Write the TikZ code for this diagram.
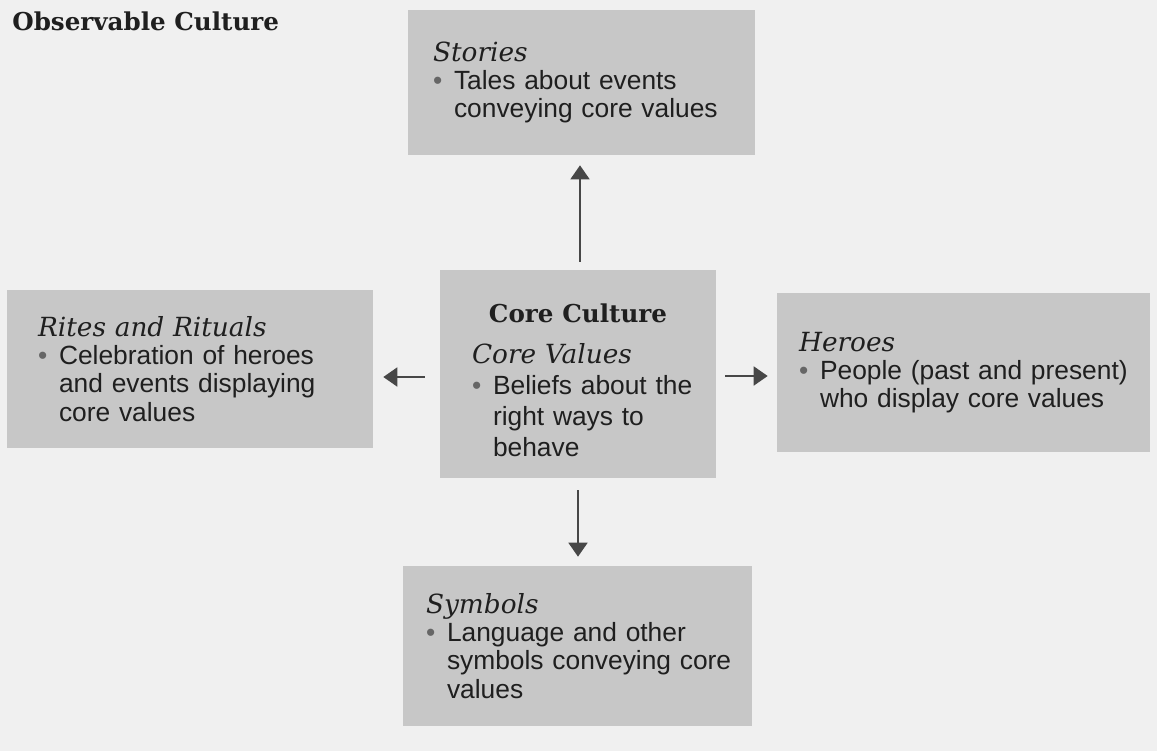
\documentclass[tikz,border=0pt]{standalone}
\usepackage{fontspec}
\setmainfont{Liberation Sans}
\newfontfamily\headserif{DejaVu Serif}
\usepackage{tikz}
\usetikzlibrary{arrows.meta, positioning, calc}

\newcommand{\headfont}{\headserif\itshape\fontsize{15}{16}\selectfont}
\newcommand{\titlefont}{\headserif\bfseries\fontsize{14}{16}\selectfont}
\newcommand{\bulletpt}{\makebox[0.42cm][l]{\textcolor{black!60}{\textbullet}}}
\newcommand{\bulletgap}{\hspace*{0.42cm}}

\begin{document}
\begin{tikzpicture}[x=0.02cm, y=-0.02cm,
    culturebox/.style={rectangle, fill=black!22, align=left, text=black!88,
        font=\fontsize{15}{16}\selectfont, inner ysep=0pt},
    arr/.style={-{Triangle[length=2.8mm, width=3.8mm]}, line width=1.1pt, draw=black!72}]
    \useasboundingbox[fill=black!6] (0,0) rectangle (1157,751);

    \node[anchor=base west, inner sep=0pt, text=black!88, font=\titlefont] (title) at (12,30) {Observable Culture};

    \node[culturebox, text width=4.6cm, inner xsep=0.46cm, minimum height=4.16cm,
        font=\fontsize{15}{17.5}\selectfont] (core) at (578,374)
        {\leftskip=0.18cm
         \hspace*{-0.18cm}\makebox[\linewidth]{\rule{0pt}{0.62cm}\titlefont Core Culture}\\[6pt]
         {\headfont Core Values}\\ \bulletpt Beliefs about the\\ \bulletgap right ways to\\ \bulletgap behave\par};

    \node[culturebox, text width=5.94cm, inner xsep=0.5cm, minimum height=2.9cm] (stories) at (581.5,82.5)
        {{\headfont Stories}\\ \bulletpt Tales about events\\ \bulletgap conveying core values};
    \node[culturebox, text width=6.08cm, inner xsep=0.62cm, minimum height=3.16cm] (rites) at (190,369)
        {{\headfont Rites and Rituals}\\ \bulletpt Celebration of heroes\\ \bulletgap and events displaying\\ \bulletgap core values};
    \node[culturebox, text width=6.86cm, inner xsep=0.3cm, minimum height=3.18cm] (heroes) at (963.5,372.5)
        {\leftskip=0.14cm
         {\headfont Heroes}\\ \bulletpt People (past and present)\\ \bulletgap who display core values\par};
    \node[culturebox, text width=6.4cm, inner xsep=0.29cm, minimum height=3.2cm] (symbols) at (577.5,646)
        {\leftskip=0.17cm
         {\headfont Symbols}\\ \bulletpt Language and other\\ \bulletgap symbols conveying core\\ \bulletgap values\par};

    % arrows out of the core
    \coordinate (upfoot) at ($(core.north)+(2,0)$);
    \coordinate (leftfoot) at ($(core.west)+(0,3)$);
    \coordinate (rightfoot) at ($(core.east)+(0,2)$);
    \draw[arr, shorten <=0.16cm, shorten >=0.2cm] (upfoot) -- (upfoot |- stories.south);
    \draw[arr, shorten <=0.3cm, shorten >=0.2cm] (leftfoot) -- (leftfoot -| rites.east);
    \draw[arr, shorten <=0.18cm, shorten >=0.18cm] (rightfoot) -- (rightfoot -| heroes.west);
    \draw[arr, shorten <=0.24cm, shorten >=0.18cm] (core.south) -- (core.south |- symbols.north);
\end{tikzpicture}
\end{document}
